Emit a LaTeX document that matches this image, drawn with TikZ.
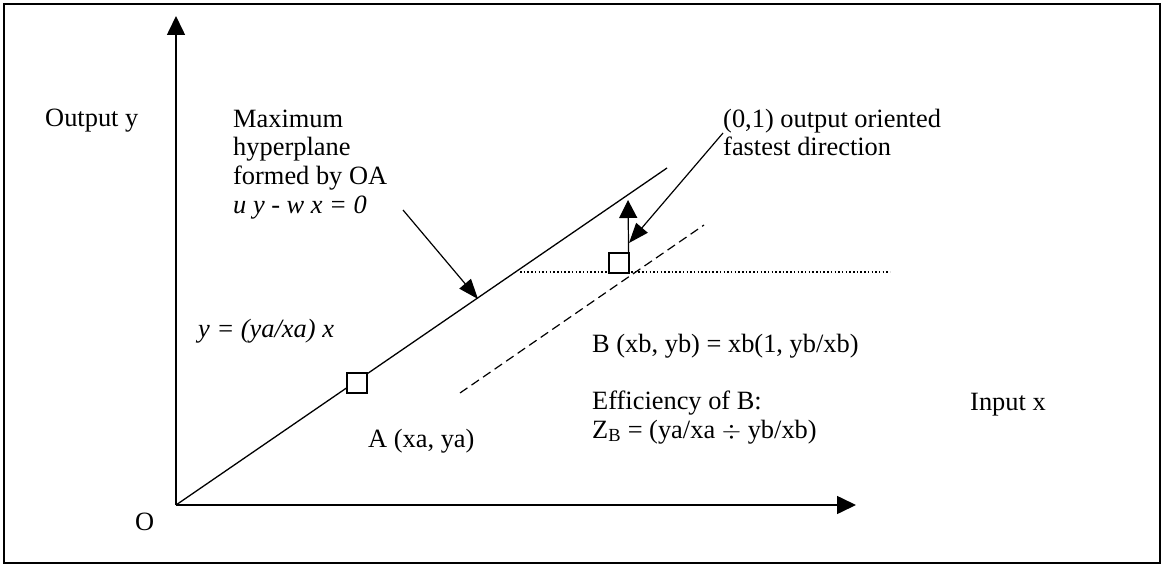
\documentclass[tikz,border=0pt]{standalone}
\usepackage{fontspec}
\setmainfont{Liberation Serif}
\usetikzlibrary{arrows.meta}
\begin{document}
\begin{tikzpicture}[x=1pt,y=-1pt,
  lbl/.style={inner sep=0pt,anchor=base west,align=left,font=\fontsize{26.4}{28.6}\selectfont},
  axis/.style={line width=1.6pt,-{Triangle[length=19pt,width=18pt]}},
  pointer/.style={line width=1.2pt,-{Triangle[length=20pt,width=15pt]}},
  ptbox/.style={draw,line width=1.2pt,fill=white,minimum size=20pt,inner sep=0pt}]
\useasboundingbox (0,0) rectangle (1164,572);
\draw[line width=1.3pt] (4,4) rectangle (1160,563);
% axes
\coordinate (O) at (176,505);
\coordinate (ytip) at (176,16);
\coordinate (xtip) at (856,505);
\draw[axis] (O) -- (ytip);
\draw[axis] (O) -- (xtip);
% hyperplane
\coordinate (hend) at (667,168);
\draw[line width=1.3pt] (O) -- (hend);
% dashed and dotted
\coordinate (ds) at (460,393);
\coordinate (de) at (704,225);
\draw[line width=1.2pt,dash pattern=on 9pt off 5pt] (ds) -- (de);
\coordinate (dts) at (520,272);
\coordinate (dte) at (890,272);
\draw[line width=1.5pt,dash pattern=on 1.5pt off 2.2pt] (dts) -- (dte);
% points
\node[ptbox] (A) at (357,383) {};
\node[ptbox] (B) at (619,263) {};
% vertical arrow
\coordinate (vtip) at (628,200);
\draw[line width=1.2pt,-{Triangle[length=18pt,width=18pt]}] (B.north east) ++(-1,0) coordinate (vb) (vb) -- (vtip);
% labels
\node[lbl] (oy) at (45,127) {Output y};
\node[lbl] (hp) at (233,213) {Maximum\\hyperplane\\formed by OA\\\itshape u y - w x = 0};
\node[lbl] (dir) at (723,156) {(0,1) output oriented\\fastest direction};
\node[lbl] (eq) at (198,337) {\itshape y = (ya/xa) x};
\node[lbl] (la) at (368,447) {A (xa, ya)};
\node[lbl] (lo) at (135,530) {O};
\node[lbl] (lb) at (592,352) {B (xb, yb) = xb(1, yb/xb)};
\node[lbl] (eff) at (592,438) {Efficiency of B:\\Z\textsubscript{B} = (ya/xa \(\div\) yb/xb)};
\node[lbl] (ix) at (970,410) {Input x};
% pointer arrows
\coordinate (p1s) at (403,210);
\coordinate (p1e) at (478,299);
\draw[pointer] (p1s) -- (p1e);
\coordinate (p2s) at (723,133);
\coordinate (p2e) at (629,243);
\draw[pointer] (p2s) -- (p2e);
\end{tikzpicture}
\end{document}
